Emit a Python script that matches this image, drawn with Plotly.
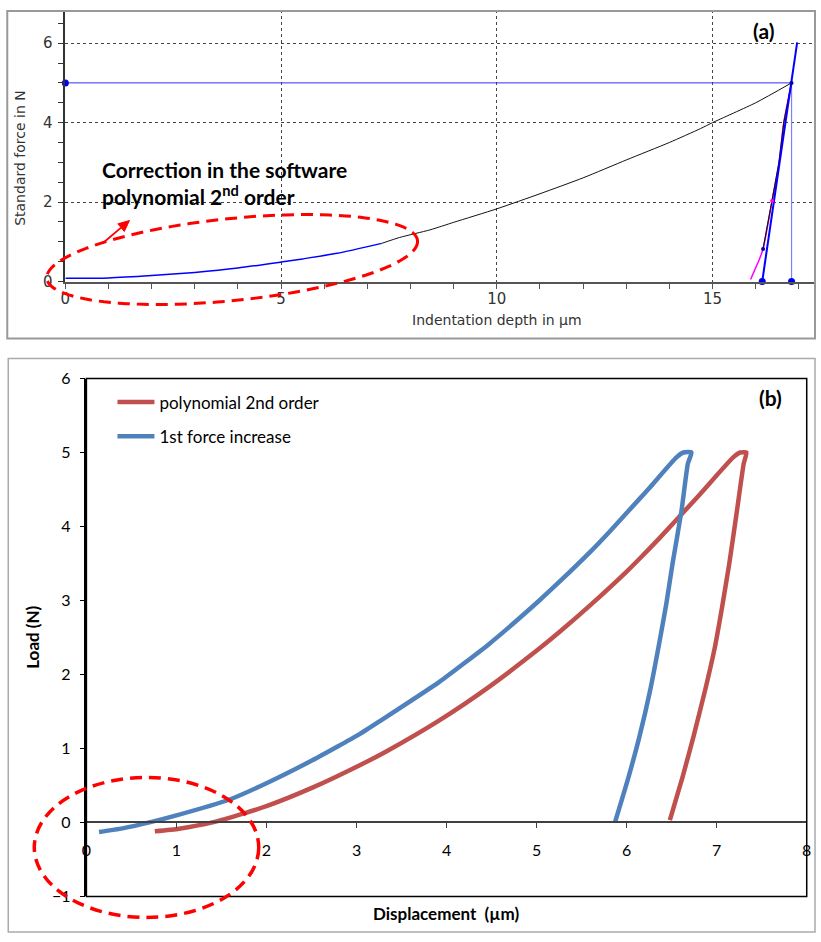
import numpy as np
import plotly.graph_objects as go

W, H = 821, 942
# small correction for the slight shrink seen in the captured picture
SX, SY, CX, CY = 0.986, 0.98, 410.5, 471.0
def RX(x): return CX + (x - CX) / SX
def RY(y): return CY + (y - CY) / SY
def PX(x): return RX(x) / W
def PY(y): return 1 - RY(y) / H
def clamp(v, lo=1.0 / W, hi=1 - 1.0 / W): return min(max(v, lo), hi)

# ---------------- Panel (a) data ----------------
a_load_blue_x = [0, 1, 2, 3, 4, 5, 5.5, 6.3, 7.33]
a_load_blue_y = [0.08, 0.09, 0.15, 0.23, 0.34, 0.49, 0.57, 0.71, 0.96]
a_load_black_x = [7.33, 7.75, 8.45, 9, 10, 11, 12, 13, 14, 14.72, 15, 16, 16.83]
a_load_black_y = [0.96, 1.11, 1.30, 1.49, 1.83, 2.21, 2.61, 3.06, 3.50, 3.85, 4.0, 4.5, 5.0]
a_unload_x = [16.83, 16.65, 16.54, 16.38, 16.17]
a_unload_y = [5.0, 4.0, 3.0, 2.03, 0.82]
a_fit_x = [15.88, 15.98, 16.08, 16.17, 16.38, 16.54, 16.65, 16.83]
a_fit_y = [0.05, 0.3, 0.55, 0.82, 2.03, 3.0, 4.0, 5.0]
a_tangent_x = [16.15, 16.96]
a_tangent_y = [0, 6.02]
a_fmax_x = [0, 16.83]
a_fmax_y = [5, 5]
a_hmax_x = [16.83, 16.83]
a_hmax_y = [0, 5]

# ---------------- Panel (b) data ----------------
b_blue_x = [0.14, 0.40, 0.70, 1.0, 1.59, 2.0, 2.51, 2.81, 3.03, 3.26, 3.92, 4.48, 5.03,
            5.26, 5.59, 5.81, 6.14, 6.26, 6.55, 6.63, 6.72,
            6.68, 6.61, 6.51, 6.44, 6.36, 6.26, 6.14, 6.02, 5.87]
b_blue_y = [-0.13, -0.08, 0.0, 0.095, 0.31, 0.53, 0.84, 1.04, 1.19, 1.37, 1.90, 2.42, 3.0,
            3.26, 3.65, 3.93, 4.37, 4.53, 4.93, 5.0, 5.0,
            4.85, 4.22, 3.5, 2.95, 2.41, 1.78, 1.15, 0.61, 0.0]
b_red_x = [0.76, 1.03, 1.40, 1.77, 2.0, 2.51, 3.03, 3.33, 3.92, 4.48, 5.03, 5.26, 5.6,
           6.0, 6.14, 6.37, 6.81, 7.18, 7.26, 7.33,
           7.30, 7.22, 7.14, 7.06, 6.98, 6.87, 6.74, 6.62, 6.48]
b_red_y = [-0.12, -0.085, 0.0, 0.13, 0.22, 0.47, 0.77, 0.96, 1.38, 1.84, 2.35, 2.58, 2.94,
           3.39, 3.56, 3.85, 4.43, 4.93, 5.0, 5.0,
           4.85, 4.17, 3.5, 2.91, 2.37, 1.78, 1.15, 0.61, 0.03]

RED = "#C0504D"
BLUE = "#4F81BD"

fig = go.Figure()

# Panel (a)
fig.add_trace(go.Scatter(x=a_fmax_x, y=a_fmax_y, mode="lines", line=dict(color="#3030F0", width=1),
                         xaxis="x", yaxis="y", showlegend=False))
fig.add_trace(go.Scatter(x=a_hmax_x, y=a_hmax_y, mode="lines", line=dict(color="#8080FF", width=1.2),
                         xaxis="x", yaxis="y", showlegend=False))
fig.add_trace(go.Scatter(x=a_load_black_x, y=a_load_black_y, mode="lines",
                         line=dict(color="#111111", width=1, shape="spline", smoothing=0.6),
                         xaxis="x", yaxis="y", showlegend=False))
fig.add_trace(go.Scatter(x=a_load_blue_x, y=a_load_blue_y, mode="lines",
                         line=dict(color="#0000FF", width=1.5, shape="spline", smoothing=0.6),
                         xaxis="x", yaxis="y", showlegend=False))
fig.add_trace(go.Scatter(x=a_fit_x, y=a_fit_y, mode="lines",
                         line=dict(color="#FF00FF", width=1.5, shape="spline", smoothing=0.6),
                         xaxis="x", yaxis="y", showlegend=False))
fig.add_trace(go.Scatter(x=a_unload_x, y=a_unload_y, mode="lines", line=dict(color="#111111", width=1.2),
                         xaxis="x", yaxis="y", showlegend=False))
fig.add_trace(go.Scatter(x=a_tangent_x, y=a_tangent_y, mode="lines", line=dict(color="#0000FF", width=2),
                         xaxis="x", yaxis="y", showlegend=False))
fig.add_trace(go.Scatter(x=[a_fmax_x[0], a_tangent_x[0], a_hmax_x[0]],
                         y=[a_fmax_y[0], a_tangent_y[0], a_hmax_y[0]],
                         mode="markers", marker=dict(color="#0000EE", size=7),
                         xaxis="x", yaxis="y", showlegend=False, cliponaxis=False))
fig.add_trace(go.Scatter(x=[a_hmax_x[1], a_unload_x[-1]], y=[a_hmax_y[1], a_unload_y[-1]],
                         mode="markers", marker=dict(color="#0000AA", size=4),
                         xaxis="x", yaxis="y", showlegend=False, cliponaxis=False))
fig.add_trace(go.Scatter(x=[a_fit_x[4]], y=[a_fit_y[4]],
                         mode="markers", marker=dict(color="#FF00FF", size=4),
                         xaxis="x", yaxis="y", showlegend=False))

# Panel (b)
fig.add_trace(go.Scatter(x=b_red_x, y=b_red_y, mode="lines", name="polynomial 2nd order",
                         line=dict(color=RED, width=4.5, shape="spline", smoothing=0.5),
                         xaxis="x2", yaxis="y2", legendgroup="r"))
fig.add_trace(go.Scatter(x=b_blue_x, y=b_blue_y, mode="lines", name="1st force increase",
                         line=dict(color=BLUE, width=4.5, shape="spline", smoothing=0.5),
                         xaxis="x2", yaxis="y2", legendgroup="b"))

FA = "DejaVu Sans"
FB = "Lato"

# axis domains / ranges for panel (a), clipped to the page
ax0, ax1 = PX(66), PX(821)
a_xmax = 17.53 * (min(ax1, 1.0) - ax0) / (ax1 - ax0)
ay0, ay1 = PY(281), PY(8)
a_ymax = 6.87 * (min(ay1, 1.0) - ay0) / (ay1 - ay0)

shapes = []
# outer frames
shapes.append(dict(type="rect", xref="paper", yref="paper", x0=clamp(PX(8)), x1=clamp(PX(820)),
                   y0=PY(338), y1=clamp(PY(5), hi=1 - 1.0 / H), line=dict(color="#999999", width=2)))
shapes.append(dict(type="rect", xref="paper", yref="paper", x0=clamp(PX(9)), x1=clamp(PX(820)),
                   y0=clamp(PY(941), lo=1.0 / H), y1=PY(358), line=dict(color="#AAAAAA", width=1.5)))
# panel b frame
shapes.append(dict(type="rect", xref="x2 domain", yref="y2 domain", x0=0, x1=1, y0=0, y1=1,
                   line=dict(color="black", width=1.5)))
# tilted dashed ellipse in (a)
cx, cy, ea, eb = 232.5, 259.0, 186.0, 41.0
th = np.arctan2(-38, 371)
t = np.linspace(0, 2 * np.pi, 121)
ex = cx + ea * np.cos(t) * np.cos(th) - eb * np.sin(t) * np.sin(th)
ey = cy + ea * np.cos(t) * np.sin(th) + eb * np.sin(t) * np.cos(th)
path = "M " + " L ".join(f"{PX(u):.5f},{PY(v):.5f}" for u, v in zip(ex, ey)) + " Z"
shapes.append(dict(type="path", xref="paper", yref="paper", path=path,
                   line=dict(color="#FF0000", width=3, dash="12px,7px")))
# dashed ellipse in (b)
shapes.append(dict(type="circle", xref="paper", yref="paper", x0=PX(35), x1=PX(259), y0=PY(917), y1=PY(777),
                   line=dict(color="#FF0000", width=3.5, dash="12px,7px")))
# arrow in (a)
tail = np.array([103.0, 243.0]); tip = np.array([130.0, 220.0])
u = (tip - tail) / np.linalg.norm(tip - tail)
n = np.array([-u[1], u[0]])
base = tip - 11 * u
shapes.append(dict(type="line", xref="paper", yref="paper", x0=PX(tail[0]), y0=PY(tail[1]),
                   x1=PX(base[0]), y1=PY(base[1]), line=dict(color="#FF0000", width=1.8)))
c1 = base + 5 * n; c2 = base - 5 * n
shapes.append(dict(type="path", xref="paper", yref="paper",
                   path=f"M {PX(tip[0]):.5f},{PY(tip[1]):.5f} L {PX(c1[0]):.5f},{PY(c1[1]):.5f} "
                        f"L {PX(c2[0]):.5f},{PY(c2[1]):.5f} Z",
                   fillcolor="#FF0000", line=dict(color="#FF0000", width=1)))

def ann(x, y, text, font, xa="center", ya="middle", **kw):
    return dict(x=PX(x), y=PY(y), xref="paper", yref="paper", xanchor=xa, yanchor=ya,
                showarrow=False, text=text, font=font, **kw)

annotations = [
    ann(101, 154, "<b>Correction in the software<br>polynomial 2<sup>nd</sup> order</b>",
        dict(family=FB, size=21, color="black"), xa="left", ya="top", align="left"),
    ann(763, 30, "<b>(a)</b>", dict(family=FB, size=21, color="black")),
    ann(770, 397, "<b>(b)</b>", dict(family=FB, size=21, color="black")),
    ann(20, 157, "Standard force in N", dict(family=FA, size=14, color="#333333"), textangle=-90),
    ann(497, 319, "Indentation depth in µm", dict(family=FA, size=14, color="#333333")),
    ann(33, 637, "<b>Load (N)</b>", dict(family=FB, size=17, color="black"), textangle=-90),
    ann(446, 913, "<b>Displacement  (µm)</b>", dict(family=FB, size=17, color="black")),
]

fig.update_layout(
    width=W, height=H, autosize=False, margin=dict(l=0, r=0, t=0, b=0, pad=0),
    paper_bgcolor="white", plot_bgcolor="white",
    showlegend=True,
    legend=dict(x=PX(113), y=PY(384), xanchor="left", yanchor="top", bgcolor="rgba(0,0,0,0)",
                font=dict(family=FB, size=17, color="black"), tracegroupgap=9, itemwidth=37),
    xaxis=dict(domain=[ax0, min(ax1, 1.0)], range=[0, a_xmax], anchor="y", showline=True,
               linecolor="#555555", linewidth=2, ticks="outside", ticklen=5, tickcolor="#555555",
               tick0=0, dtick=5, showgrid=True, gridcolor="#444444", griddash="dot", gridwidth=1,
               zeroline=False, ticklabelstandoff=-3,
               minor=dict(dtick=1, ticks="outside", ticklen=5, tickcolor="#555555", showgrid=False),
               tickfont=dict(family=FA, size=15, color="#333333")),
    yaxis=dict(domain=[ay0, min(ay1, 1.0)], range=[0, a_ymax], anchor="x", showline=True,
               linecolor="#333333", linewidth=1.5, ticks="outside", ticklen=6, tickcolor="#333333",
               tick0=0, dtick=2, showgrid=True, gridcolor="#444444", griddash="dot", gridwidth=1,
               zeroline=False,
               minor=dict(dtick=0.5, ticks="outside", ticklen=6, tickcolor="#333333", showgrid=False),
               tickfont=dict(family=FA, size=15, color="#333333"), ticklabelstandoff=2),
    xaxis2=dict(domain=[PX(87), PX(806)], range=[0, 8], anchor="free", position=PY(822), showline=True,
                linecolor="#404040", linewidth=2, ticks="outside", ticklen=5, tickcolor="#404040",
                dtick=1, showgrid=False, zeroline=False, ticklabelstandoff=8,
                tickfont=dict(family=FB, size=16, color="black")),
    yaxis2=dict(domain=[PY(896), PY(378)], range=[-1, 6], anchor="x2", showline=True, linecolor="black",
                linewidth=1.5, ticks="outside", ticklen=5, tickcolor="black", dtick=1, showgrid=False,
                zeroline=False, ticklabelstandoff=6, tickfont=dict(family=FB, size=16, color="black")),
    shapes=shapes, annotations=annotations,
)

fig.write_html("out.html", config={"responsive": False, "displayModeBar": False},
               post_script="document.body.style.margin='0px';document.body.style.overflow='hidden';")
